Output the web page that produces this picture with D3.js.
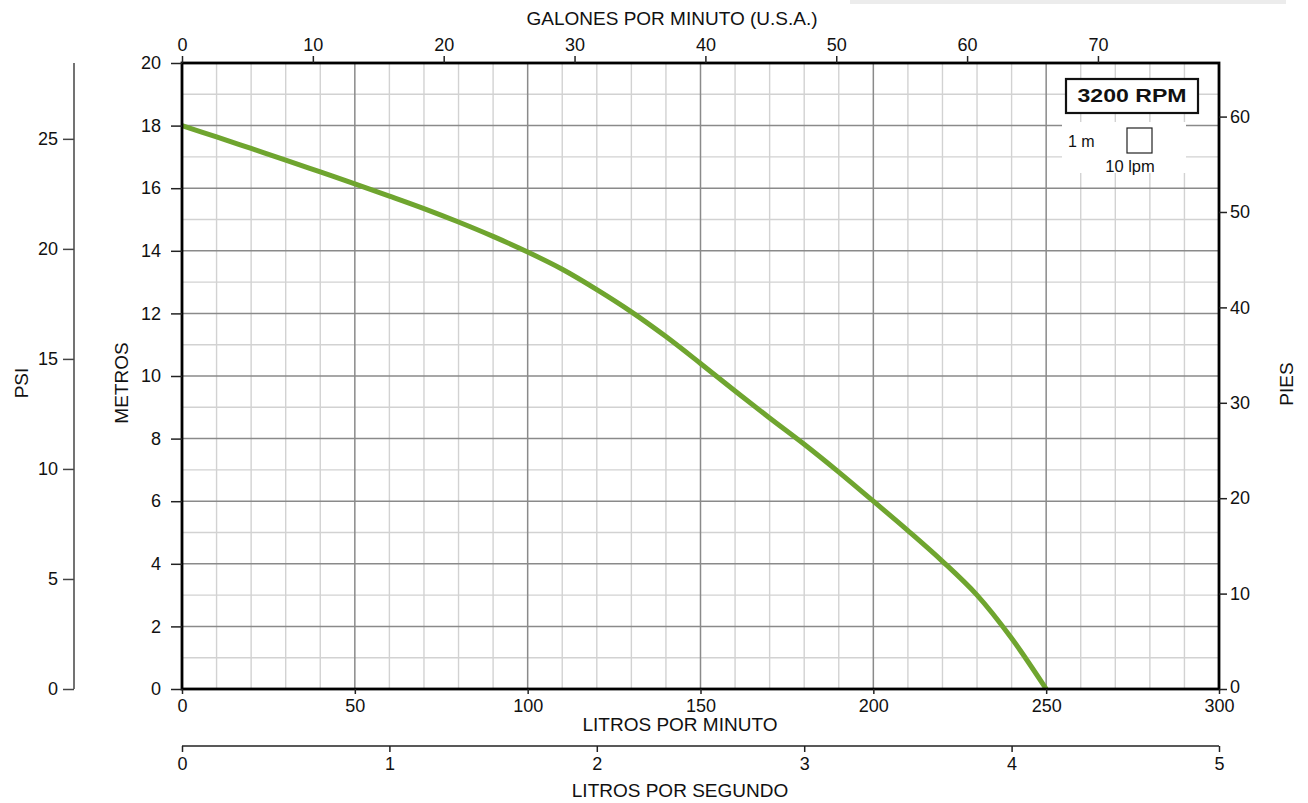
<!DOCTYPE html>
<html><head><meta charset="utf-8">
<script src="https://cdn.jsdelivr.net/npm/d3@7"></script>
<style>
html,body{margin:0;padding:0;background:#fff;}
svg{display:block;font-family:"Liberation Sans",Arial,sans-serif;}
text{fill:#111;}
</style></head>
<body><svg id="c" width="1308" height="803"></svg>
<script>
// ---- data ----
const flowLpm = [0,10,20,30,40,50,60,70,80,90,100,110,120,130,140,150,160,170,180,190,200,210,220,230,240,250];
const headM   = [18.0,17.64,17.27,16.9,16.52,16.14,15.75,15.35,14.92,14.46,13.96,13.41,12.76,12.05,11.26,10.4,9.52,8.66,7.82,6.93,6.0,5.06,4.08,3.0,1.62,0];
const lpmTicks = [0,50,100,150,200,250,300];
const metrosTicks = [0,2,4,6,8,10,12,14,16,18,20];
const gpmTicks = [0,10,20,30,40,50,60,70];
const piesTicks = [0,10,20,30,40,50,60];
const psiTicks = [0,5,10,15,20,25];
const lpsTicks = [0,1,2,3,4,5];
const rpmLabel = "3200 RPM";

const svg = d3.select("#c");
const X0=182, X1=1219, Y0=689, Y1=63;
const x = d3.scaleLinear().domain([0,300]).range([X0,X1]);
const y = d3.scaleLinear().domain([0,20]).range([Y0,Y1]);
const xg = d3.scaleLinear().domain([0,300/3.78541]).range([X0,X1]);
const yp = d3.scaleLinear().domain([0,20/0.3048]).range([Y0,Y1]);
const ypsi = d3.scaleLinear().domain([0,20/0.70307]).range([Y0,Y1]);
const xs = d3.scaleLinear().domain([0,5]).range([X0,X1]);

// faint bar top right
svg.append("rect").attr("x",850).attr("y",0).attr("width",436).attr("height",4).attr("fill","#ececec");

// grid
const g = svg.append("g");
d3.range(0,301,10).filter(v=>v%50!==0).forEach(v=>{
  g.append("line").attr("x1",x(v)).attr("x2",x(v)).attr("y1",Y1).attr("y2",Y0).attr("stroke","#d2d2d2").attr("stroke-width",1.4);
});
d3.range(0,21,1).filter(v=>v%2!==0).forEach(v=>{
  g.append("line").attr("x1",X0).attr("x2",X1).attr("y1",y(v)).attr("y2",y(v)).attr("stroke","#d2d2d2").attr("stroke-width",1.4);
});
lpmTicks.forEach(v=>{
  g.append("line").attr("x1",x(v)).attr("x2",x(v)).attr("y1",Y1).attr("y2",Y0).attr("stroke","#8a8a8a").attr("stroke-width",1.5);
});
metrosTicks.forEach(v=>{
  g.append("line").attr("x1",X0).attr("x2",X1).attr("y1",y(v)).attr("y2",y(v)).attr("stroke","#8a8a8a").attr("stroke-width",1.5);
});

// legend white area
svg.append("rect").attr("x",1062).attr("y",122).attr("width",124).attr("height",51).attr("fill","#fff");
svg.append("text").attr("x",1068).attr("y",147).attr("font-size",16).text("1 m");
svg.append("rect").attr("x",1127).attr("y",128).attr("width",25).attr("height",25).attr("fill","#fff").attr("stroke","#222").attr("stroke-width",1.2);
svg.append("text").attr("x",1130).attr("y",172).attr("text-anchor","middle").attr("font-size",16.5).text("10 lpm");

// curve
const pts = flowLpm.map((f,i)=>[f,headM[i]]);
svg.append("path").datum(pts)
  .attr("d", d3.line().x(d=>x(d[0])).y(d=>y(d[1])).curve(d3.curveCatmullRom.alpha(0.5)))
  .attr("fill","none").attr("stroke","#6fa52f").attr("stroke-width",5).attr("stroke-linecap","butt");

// frame
svg.append("rect").attr("x",X0).attr("y",Y1).attr("width",X1-X0).attr("height",Y0-Y1)
  .attr("fill","none").attr("stroke","#000").attr("stroke-width",2.8);

// RPM box
svg.append("rect").attr("x",1066).attr("y",79).attr("width",132).attr("height",34).attr("fill","#fff").attr("stroke","#111").attr("stroke-width",2.2);
svg.append("text").attr("x",1132).attr("y",102).attr("text-anchor","middle").attr("font-size",18).attr("font-weight","bold")
  .attr("textLength",109).attr("lengthAdjust","spacingAndGlyphs").text(rpmLabel);

const fs = 18;
function styleAxis(sel, color){
  sel.select(".domain").remove();
  sel.selectAll(".tick line").attr("stroke",color).attr("stroke-width",1.5);
  sel.selectAll(".tick text").attr("font-size",fs).attr("fill","#111").attr("font-family","Liberation Sans, Arial, sans-serif");
}
// left metros
const aL = svg.append("g").attr("transform",`translate(${X0},0)`)
  .call(d3.axisLeft(y).tickValues(metrosTicks).tickSize(11).tickPadding(10));
styleAxis(aL,"#222");
// bottom lpm
const aB = svg.append("g").attr("transform",`translate(0,${Y0})`)
  .call(d3.axisBottom(x).tickValues(lpmTicks).tickSize(5).tickPadding(5));
styleAxis(aB,"#222");
// top gpm
const aT = svg.append("g").attr("transform",`translate(0,${Y1})`)
  .call(d3.axisTop(xg).tickValues(gpmTicks).tickSize(7).tickPadding(5));
styleAxis(aT,"#222");
// right pies
const aR = svg.append("g").attr("transform",`translate(${X1},0)`)
  .call(d3.axisRight(yp).tickValues(piesTicks).tickSize(8).tickPadding(3));
styleAxis(aR,"#222");
aR.selectAll(".tick text").filter(d=>d===0).attr("dy","0.2em");
// psi
const aP = svg.append("g").attr("transform",`translate(74,0)`)
  .call(d3.axisLeft(ypsi).tickValues(psiTicks).tickSize(11).tickPadding(5));
styleAxis(aP,"#444");
svg.append("line").attr("x1",74).attr("x2",74).attr("y1",Y1).attr("y2",Y0).attr("stroke","#444").attr("stroke-width",1.5);
// lps
const aS = svg.append("g").attr("transform",`translate(0,746)`)
  .call(d3.axisBottom(xs).tickValues(lpsTicks).tickFormat(d3.format("d")).tickSize(6).tickPadding(5));
styleAxis(aS,"#222");
svg.append("line").attr("x1",X0).attr("x2",X1).attr("y1",746).attr("y2",746).attr("stroke","#222").attr("stroke-width",1.5);

// titles
const tf = 19;
svg.append("text").attr("x",672).attr("y",25).attr("text-anchor","middle").attr("font-size",tf).text("GALONES POR MINUTO (U.S.A.)");
svg.append("text").attr("x",680).attr("y",731).attr("text-anchor","middle").attr("font-size",tf).text("LITROS POR MINUTO");
svg.append("text").attr("x",680).attr("y",797).attr("text-anchor","middle").attr("font-size",tf).text("LITROS POR SEGUNDO");
svg.append("text").attr("transform","translate(128,383) rotate(-90)").attr("text-anchor","middle").attr("font-size",tf).text("METROS");
svg.append("text").attr("transform","translate(28,383) rotate(-90)").attr("text-anchor","middle").attr("font-size",tf).text("PSI");
svg.append("text").attr("transform","translate(1293,384) rotate(-90)").attr("text-anchor","middle").attr("font-size",tf).text("PIES");
</script></body></html>
